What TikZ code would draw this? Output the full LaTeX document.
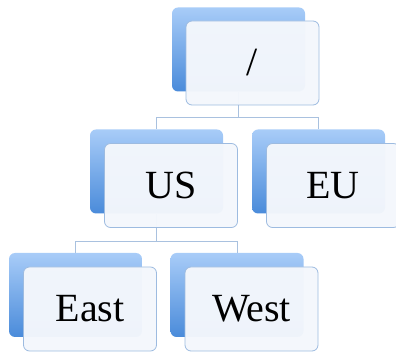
\documentclass[tikz,border=0pt]{standalone}
\usepackage{fontspec}
\setmainfont{Liberation Serif}
\definecolor{backtop}{HTML}{A8CCF8}
\definecolor{backbot}{HTML}{4A8BDA}
\definecolor{frontfill}{HTML}{F4F7FC}
\definecolor{frontline}{HTML}{9DBBE0}
\definecolor{linkline}{HTML}{A9C1DF}
\begin{document}
\begin{tikzpicture}[x=1pt, y=-1pt,
        back/.style={rectangle, rounded corners=6pt, minimum width=133pt, minimum height=84pt,
          top color=backtop, bottom color=backbot, draw=none, inner sep=0pt},
        front/.style={rectangle, rounded corners=6pt, minimum width=133pt, minimum height=84pt,
          fill=frontfill, fill opacity=0.97, text opacity=1, draw=frontline, line width=0.8pt,
          inner sep=0pt, font=\fontsize{40}{42}\selectfont},
        link/.style={draw=linkline, line width=0.8pt}]
      \useasboundingbox (0,0) rectangle (396,352);

      % Back boxes
      \node[back] (rootB) at (238.5,49.5) {};
      \node[back] (usB)   at (156.5,171.5) {};
      \node[back] (euB)   at (318.5,171.5) {};
      \node[back] (eastB) at (75.5,295) {};
      \node[back] (westB) at (237,295) {};

      % Connectors
      \coordinate (j1) at (238.5,117);
      \coordinate (j2) at (156.5,241);
      \draw[link] (rootB.south) -- (j1) -| (usB.north);
      \draw[link] (j1) -| (euB.north);
      \draw[link] (usB.south) -- (j2) -| (eastB.north);
      \draw[link] (j2) -| (westB.north);

      % Front boxes
      \node[front] (root) at (252.5,63)  {/};
      \node[front] (us)   at (171,185.5) {US};
      \node[front] (eu)   at (333,185.5) {EU};
      \node[front] (east) at (90,309)    {East};
      \node[front] (west) at (251.5,309) {West};
    \end{tikzpicture}
\end{document}
